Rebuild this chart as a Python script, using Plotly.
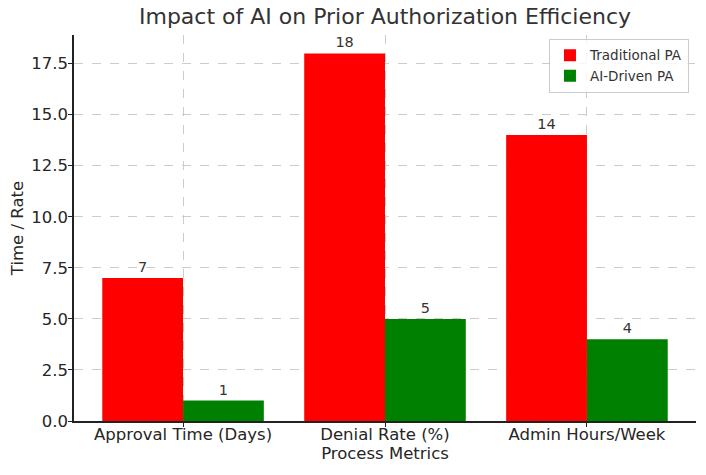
import plotly.graph_objects as go

categories = ["Approval Time (Days)", "Denial Rate (%)", "Admin Hours/Week"]
traditional = [7, 18, 14]
ai_driven = [1, 5, 4]
y_ticks = [0, 2.5, 5, 7.5, 10, 12.5, 15, 17.5]
y_tick_labels = ["0.0", "2.5", "5.0", "7.5", "10.0", "12.5", "15.0", "17.5"]

x = list(range(len(categories)))
font = "DejaVu Sans"
txt = "#262626"

fig = go.Figure()
fig.add_trace(go.Bar(x=x, y=traditional, name="Traditional PA", marker_color="#ff0000",
                     marker_line_width=0, text=[str(v) for v in traditional],
                     textposition="outside", cliponaxis=False,
                     textfont=dict(size=14.5, color="#333333", family=font)))
fig.add_trace(go.Bar(x=x, y=ai_driven, name="AI-Driven PA", marker_color="#008000",
                     marker_line_width=0, text=[str(v) for v in ai_driven],
                     textposition="outside", cliponaxis=False,
                     textfont=dict(size=14.5, color="#333333", family=font)))

fig.update_layout(
    width=698, height=467,
    margin=dict(l=66, r=10, t=27, b=54, autoexpand=False),
    barmode="group", bargap=0.2, bargroupgap=0,
    paper_bgcolor="white", plot_bgcolor="white",
    font=dict(family=font, size=16.5, color=txt),
    title=dict(text="Impact of AI on Prior Authorization Efficiency", x=0.5, xanchor="center",
               xref="paper", y=0.999, yanchor="top", pad=dict(t=0, b=0),
               font=dict(size=22, color="#333333")),
    legend=dict(x=0.9887, y=0.99, xanchor="right", yanchor="top",
                bordercolor="#cccccc", borderwidth=1, bgcolor="rgba(255,255,255,0.8)",
                font=dict(size=13.5, color="#333333")),
    xaxis=dict(tickmode="array", tickvals=x, ticktext=categories, range=[-0.54, 2.54],
               showgrid=True, gridcolor="#cccccc", griddash="dash", gridwidth=1,
               showline=True, linecolor="#222222", linewidth=1.5,
               ticks="outside", ticklen=4, tickcolor="#222222", automargin=False,
               ticklabelstandoff=-7,
               title=dict(text="Process Metrics", standoff=5, font=dict(size=16.5)),
               tickfont=dict(size=16.5), zeroline=False),
    yaxis=dict(tickmode="array", tickvals=y_ticks, ticktext=y_tick_labels, range=[0, 18.9],
               showgrid=True, gridcolor="#cccccc", griddash="dash", gridwidth=1,
               showline=True, linecolor="#222222", linewidth=1.5,
               ticks="outside", ticklen=4, tickcolor="#222222", automargin=False,
               ticklabelstandoff=-3,
               title=dict(text="Time / Rate", standoff=4, font=dict(size=16.5)),
               tickfont=dict(size=16.5), zeroline=False),
)

fig.write_html("out.html")
